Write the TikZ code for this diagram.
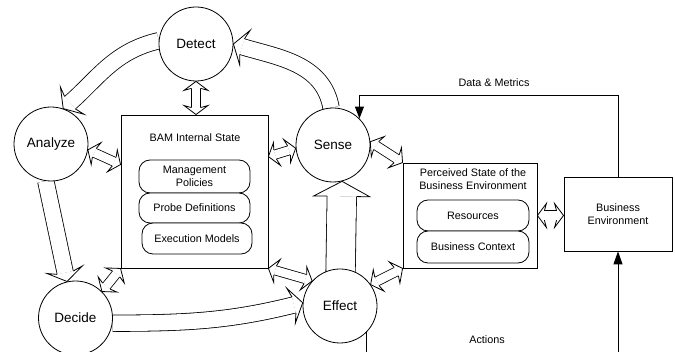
\documentclass[tikz,border=0pt]{standalone}
\usepackage{fontspec}
\setmainfont{Liberation Sans}
\usetikzlibrary{decorations.markings,arrows.meta,backgrounds,calc}

\newcommand\fhead[4]{%
  \fill[white] (-#3,#1) -- (-#3-#4,#2) -- (0,0) -- (-#3-#4,-#2) -- (-#3,-#1) -- cycle;
  \draw[shorten <=0pt,shorten >=0pt,line join=miter] (-#3,#1) -- (-#3-#4,#2) -- (0,0) -- (-#3-#4,-#2) -- (-#3,-#1);}
\newcommand\hA{\fhead{4.7}{12}{7}{2}}
\newcommand\hB{\fhead{8.2}{18}{9}{3}}
\newcommand\hC{\fhead{14.7}{28}{15}{0}}

\tikzset{
  arr/.style={draw, line width=0.8pt, double=white},
  dblarrow/.style={arr, double distance=8.4pt, shorten <=7pt, shorten >=7pt,
    postaction={decorate, decoration={markings,
      mark=at position 0 with {\begin{scope}[xscale=-1]\hA\end{scope}},
      mark=at position -0.05pt with {\hA}}}},
  cycarrow/.style={arr, double distance=15.6pt, shorten >=9pt,
    postaction={decorate, decoration={markings,
      mark=at position -0.05pt with {\hB}}}},
  bigarrow/.style={arr, double distance=28.6pt, shorten >=15pt,
    postaction={decorate, decoration={markings,
      mark=at position -0.05pt with {\hC}}}},
  circ/.style={circle, draw, line width=0.8pt, fill=white, minimum size=74pt, inner sep=0pt,
    font=\fontsize{13.5}{16}\selectfont},
  txt/.style={font=\fontsize{10.8}{13}\selectfont, inner sep=0pt, align=center},
  box/.style={draw, line width=0.8pt, fill=white, inner sep=0pt},
  rbox/.style={box, txt, rounded corners=11pt},
  flow/.style={line width=1pt},
}

\begin{document}
\begin{tikzpicture}[x=1pt,y=1pt]
\useasboundingbox (0,0) rectangle (675,-352);
\clip (0,0) rectangle (675,-352);

% boxes
\node[box, minimum width=147pt, minimum height=153pt] (BAM) at (194.5,-191.5) {};
\node[txt] (BAMt) at (195,-138) {BAM Internal State};
\node[rbox, minimum width=111pt, minimum height=33pt] (MP) at (194.5,-176.5) {Management\\Policies};
\node[rbox, minimum width=111pt, minimum height=30pt] (PD) at (194.5,-208) {Probe Definitions};
\node[rbox, minimum width=110pt, minimum height=31pt] (EM) at (197,-238.5) {Execution Models};

\node[box, minimum width=134pt, minimum height=105pt] (PSB) at (470,-215.5) {};
\node[txt, font=\fontsize{10.8}{13.5}\selectfont] (PSBt) at (473,-179) {Perceived State of the\\Business Environment};
\node[rbox, minimum width=112pt, minimum height=31pt] (RES) at (473,-215.5) {Resources};
\node[rbox, minimum width=112pt, minimum height=32pt] (BC) at (473,-247) {Business Context};

\node[box, txt, minimum width=108pt, minimum height=74pt] (BE) at (618,-214) {Business\\Environment};

% circles
\node[circ] (Detect) at (196,-44) {Detect};
\node[circ] (Analyze) at (51,-144) {Analyze};
\node[circ] (Sense) at (333,-145) {Sense};
\node[circ] (Decide) at (75.5,-318) {Decide};
\node[circ] (Effect) at (340,-306) {Effect};

% labels
\node[txt] (DM) at (494,-83) {Data \& Metrics};
\node[txt] (ACT) at (487,-340) {Actions};

% fat arrows
\begin{scope}[on background layer]
\draw[cycarrow] (Detect.175) to[out=193,in=41] (Analyze.71);
\draw[cycarrow] (Sense.93) to[out=100,in=-17] (Detect.0);
\draw[cycarrow] (Analyze.262) -- (Decide.103);
\draw[cycarrow] (Decide.-8) to[out=0,in=194] (Effect.175);
\draw[bigarrow] (Effect.center) -- (Sense.-76);
\draw[dblarrow] (Detect.south) -- (Detect.south |- BAM.north);
\draw[dblarrow] (Analyze.-9) -- ([yshift=-50pt]BAM.north west);
\draw[dblarrow] ([yshift=-42pt]BAM.north east) -- (Sense.185);
\draw[dblarrow] (Decide.45) -- (BAM.south west);
\draw[dblarrow] (BAM.south east) -- (Effect.138);
\draw[dblarrow] (Sense.5) -- (PSB.north west);
\draw[dblarrow] (Effect.35) -- (PSB.south west);
\draw[dblarrow] (PSB.east) -- (PSB.east -| BE.west);
\end{scope}

% data flows
\draw[flow, -{Triangle[length=12pt,width=9pt]}] (BE.north) -- ++(0,81) -| (Sense.45);
\draw[flow, -{Triangle[length=13pt,width=9pt]}] (Effect.-45) -- ++(0,-45) -| (BE.south);
\end{tikzpicture}
\end{document}
